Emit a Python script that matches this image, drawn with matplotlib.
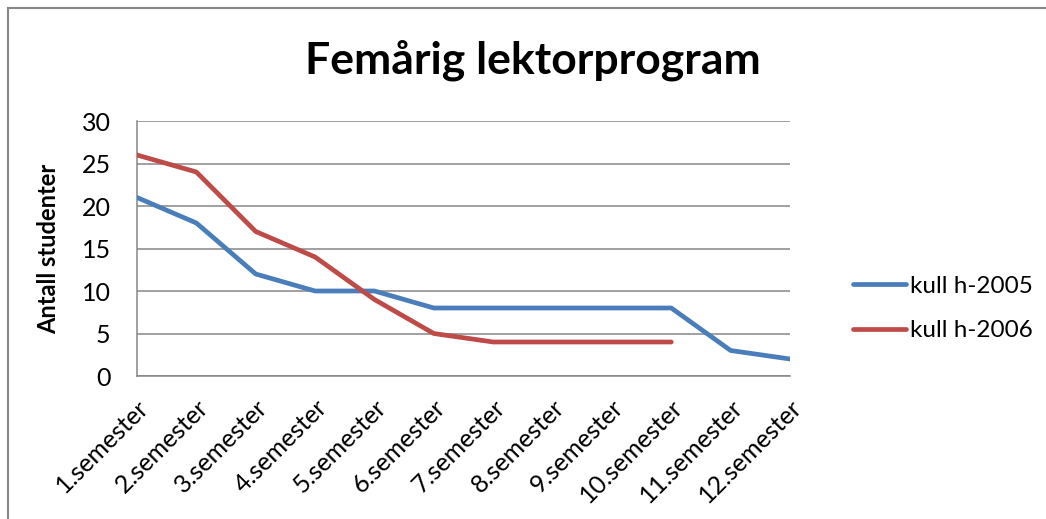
import matplotlib
matplotlib.use("Agg")
import matplotlib.pyplot as plt
from matplotlib.patches import Rectangle

semesters = ["1.semester", "2.semester", "3.semester", "4.semester", "5.semester",
             "6.semester", "7.semester", "8.semester", "9.semester", "10.semester",
             "11.semester", "12.semester"]
kull_2005 = [21, 18, 12, 10, 10, 8, 8, 8, 8, 8, 3, 2]
kull_2006 = [26, 24, 17, 14, 9, 5, 4, 4, 4, 4]
yticks = [0, 5, 10, 15, 20, 25, 30]

plt.rcParams['font.family'] = ['Lato', 'DejaVu Sans']

fig = plt.figure(figsize=(10.46, 5.19), dpi=100)
ax = fig.add_axes([137 / 1046, 1 - 376 / 519, (790 - 137) / 1046, (376 - 121) / 519])

# outer chart frame
fig.patches.append(Rectangle((8 / 1046, -0.05), 1.1, 0.05 + 1 - 8 / 519,
                             transform=fig.transFigure, fill=False,
                             edgecolor='#868686', linewidth=1.5))

x05 = list(range(len(kull_2005)))
x06 = list(range(len(kull_2006)))
ax.plot(x05, kull_2005, color='#4A7EBB', linewidth=3.4, label='kull h-2005',
        solid_capstyle='round', solid_joinstyle='round', zorder=3)
ax.plot(x06, kull_2006, color='#BE4B48', linewidth=3.4, label='kull h-2006',
        solid_capstyle='round', solid_joinstyle='round', zorder=3)

ax.set_xlim(0, len(semesters) - 1)
ax.set_ylim(0, 30)
ax.set_yticks(yticks)
ax.set_xticks(range(len(semesters)))
ax.set_xticklabels(semesters, rotation=45, ha='right', rotation_mode='anchor')
ax.tick_params(axis='both', length=0, labelsize=18)
ax.tick_params(axis='x', pad=14)
ax.tick_params(axis='y', pad=19)
ax.grid(axis='y', color='#868686', linewidth=1.1)
ax.set_axisbelow(True)
for side in ['top', 'right']:
    ax.spines[side].set_visible(False)
ax.spines['left'].set_color('#868686')
ax.spines['bottom'].set_color('#868686')
ax.spines['left'].set_linewidth(1.1)
ax.spines['bottom'].set_linewidth(1.1)

ax.set_ylabel('Antall studenter', fontsize=17, fontweight='bold')
ax.yaxis.set_label_coords(-0.118, 0.5)
fig.text(533 / 1046, 1 - 60 / 519, 'Femårig lektorprogram', fontsize=32,
         fontweight='bold', ha='center', va='center')

ax.legend(loc='center left', bbox_to_anchor=(853 / 1046, 1 - 308.5 / 519),
          bbox_transform=fig.transFigure, borderpad=0, borderaxespad=0,
          frameon=False, fontsize=17.5, handlelength=2.2, handletextpad=0.15,
          labelspacing=0.95)

fig.savefig('out.png', dpi=100)
